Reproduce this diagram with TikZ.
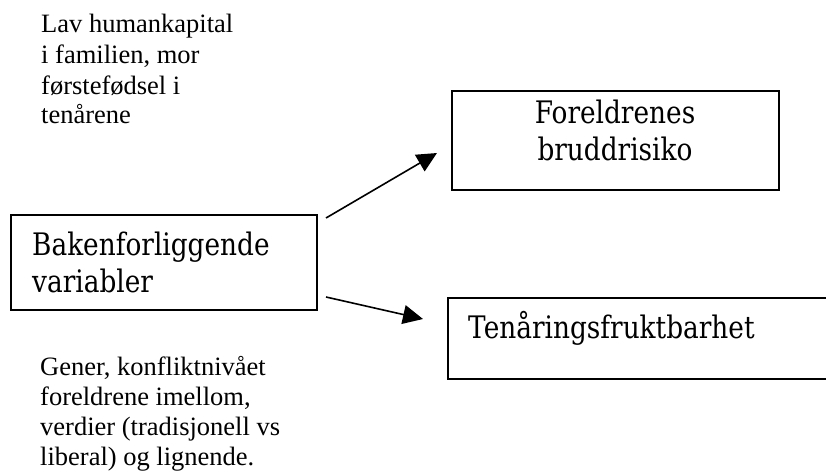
\documentclass[tikz,border=0pt]{standalone}
\usepackage{fontspec}
\setmainfont{Liberation Serif}
\newfontfamily\boxfont[FakeStretch=0.85]{DejaVu Serif}
\usetikzlibrary{arrows.meta}
\tikzset{
  box/.style={draw=black, line width=1.6pt, rectangle, inner sep=0pt, anchor=north west},
  boxtext/.style={font=\boxfont\fontsize{31}{37}\selectfont, inner sep=0pt, align=left},
  note/.style={font=\fontsize{26.5}{30.5}\selectfont, inner sep=0pt, align=left, anchor=base west},
  arr/.style={line width=1.6pt, -{Triangle[length=20pt,width=19pt]}}
}
\begin{document}
\begin{tikzpicture}[x=1pt,y=-1pt]
\useasboundingbox (0,0) rectangle (826,471);
\clip (0,0) rectangle (826,471);
% boxes
\node[box, minimum width=306pt, minimum height=95pt] (b1) at (10,214) {};
\node[box, minimum width=327pt, minimum height=99pt] (b2) at (451,90) {};
\node[box, minimum width=400pt, minimum height=81pt] (b3) at (447,297) {};
% box texts
\node[boxtext, anchor=base west] (t1a) at (32,255) {Bakenforliggende};
\node[boxtext, anchor=base west] (t1b) at (32,292) {variabler};
\node[boxtext, anchor=base] (t2a) at (615,123) {Foreldrenes};
\node[boxtext, anchor=base] (t2b) at (615,160) {bruddrisiko};
\node[boxtext, anchor=base west] (t3) at (468,338) {Tenåringsfruktbarhet};
% notes
\node[note] (n1a) at (41,32) {Lav humankapital};
\node[note] (n1b) at (41,63) {i familien, mor};
\node[note] (n1c) at (41,94) {førstefødsel i};
\node[note] (n1d) at (41,123) {tenårene};
\node[note] (n2a) at (40,375) {Gener, konfliktnivået};
\node[note] (n2b) at (40,405) {foreldrene imellom,};
\node[note] (n2c) at (40,435) {verdier (tradisjonell vs};
\node[note] (n2d) at (40,465) {liberal) og lignende.};
% arrows
\coordinate (a1s) at (326,218);
\coordinate (a1e) at (437,153);
\coordinate (a2s) at (326,297);
\coordinate (a2e) at (423,319);
\draw[arr] (a1s) -- (a1e);
\draw[arr] (a2s) -- (a2e);
\end{tikzpicture}
\end{document}
